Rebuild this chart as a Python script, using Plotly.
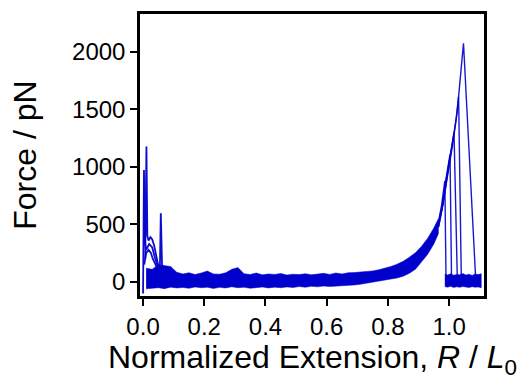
import plotly.graph_objects as go

BLUE = "#0000CC"

# ---- data ----
# noisy baseline band before rupture (upper / lower envelope)
band_x = [0.01, 0.03, 0.05, 0.07, 0.09, 0.11, 0.13, 0.15, 0.17, 0.19, 0.21, 0.23, 0.25,
          0.27, 0.29, 0.31, 0.33, 0.35, 0.37, 0.39, 0.41, 0.43, 0.45, 0.47, 0.49, 0.51,
          0.53, 0.55, 0.57, 0.59, 0.61, 0.63, 0.65, 0.67, 0.69, 0.71, 0.73, 0.75, 0.77,
          0.79, 0.81, 0.83, 0.85, 0.87, 0.89, 0.91, 0.93, 0.95, 0.965]
band_top = [120, 110, 150, 140, 135, 85, 70, 80, 65, 78, 95, 70, 68,
            80, 110, 125, 72, 65, 78, 62, 70, 66, 74, 60, 68, 64,
            72, 62, 70, 75, 66, 78, 70, 80, 82, 86, 90, 96, 106,
            118, 135, 155, 180, 215, 255, 310, 380, 470, 550]
band_bot = [-60, -55, -50, -58, -45, -52, -48, -55, -44, -50, -46, -56, -47,
            -52, -42, -50, -46, -55, -48, -44, -52, -45, -50, -43, -48, -40,
            -46, -38, -42, -36, -40, -34, -36, -30, -26, -20, -12, -5, 5,
            15, 25, 35, 50, 75, 110, 170, 240, 330, 420]

# noisy baseline band after rupture
post_x = [0.986, 0.995, 1.005, 1.015, 1.025, 1.035, 1.045, 1.055, 1.065, 1.075, 1.085, 1.095, 1.105]
post_top = [70, 60, 72, 58, 66, 62, 74, 60, 68, 57, 70, 64, 72]
post_bot = [-40, -45, -38, -48, -42, -46, -40, -44, -48, -41, -46, -43, -50]

# individual traces: stretch to rupture
ta_x = [0.962, 0.975, 0.986, 0.990]
ta_y = [480, 660, 880, 15]
tb_x = [0.962, 0.977, 0.990, 1.003, 1.008]
tb_y = [470, 650, 900, 1110, 10]
tc_x = [0.963, 0.978, 0.992, 1.005, 1.016, 1.027]
tc_y = [480, 660, 910, 1120, 1300, 10]
td_x = [0.965, 0.980, 0.995, 1.010, 1.022, 1.031, 1.040]
td_y = [480, 680, 940, 1180, 1400, 1610, 10]
te_x = [0.966, 0.981, 0.997, 1.012, 1.026, 1.037, 1.047, 1.087]
te_y = [480, 690, 960, 1200, 1470, 1760, 2075, 20]

# features near zero extension
la_x = [0.0, 0.001, 0.003, 0.006, 0.010, 0.020, 0.030, 0.040, 0.050, 0.060, 0.080]
la_y = [-100, 300, 974, 350, 280, 330, 300, 200, 120, 80, 60]
lb_x = [0.007, 0.011, 0.014, 0.018, 0.024, 0.030, 0.036, 0.042, 0.050, 0.055, 0.058, 0.062, 0.070, 0.090, 0.100]
lb_y = [200, 1177, 400, 360, 390, 370, 320, 240, 140, 120, 597, 150, 110, 120, 60]
lc_x = [0.004, 0.010, 0.018, 0.026, 0.032, 0.040, 0.050, 0.060]
lc_y = [150, 250, 280, 250, 200, 150, 100, 70]

x_ticks = [0.0, 0.2, 0.4, 0.6, 0.8, 1.0]
x_tick_text = ["0.0", "0.2", "0.4", "0.6", "0.8", "1.0"]
y_ticks = [0, 500, 1000, 1500, 2000]

fig = go.Figure()

fig.add_trace(go.Scatter(x=band_x + band_x[::-1], y=band_top + band_bot[::-1],
                         fill="toself", fillcolor=BLUE, mode="lines",
                         line=dict(color=BLUE, width=0.5), hoverinfo="skip"))
fig.add_trace(go.Scatter(x=post_x + post_x[::-1], y=post_top + post_bot[::-1],
                         fill="toself", fillcolor=BLUE, mode="lines",
                         line=dict(color=BLUE, width=0.5), hoverinfo="skip"))

for xs, ys in [(ta_x, ta_y), (tb_x, tb_y), (tc_x, tc_y), (td_x, td_y), (te_x, te_y)]:
    fig.add_trace(go.Scatter(x=xs, y=ys, mode="lines",
                             line=dict(color=BLUE, width=1.4), opacity=0.9))
for xs, ys in [(la_x, la_y), (lb_x, lb_y), (lc_x, lc_y)]:
    fig.add_trace(go.Scatter(x=xs, y=ys, mode="lines",
                             line=dict(color=BLUE, width=1.8), opacity=0.95))

axis_common = dict(showline=True, linecolor="black", linewidth=2.5, mirror=True,
                   ticks="outside", ticklen=7, tickwidth=2, tickcolor="black",
                   showgrid=False, zeroline=False, automargin=False,
                   tickfont=dict(family="Liberation Sans, Arial", size=24, color="black"))

fig.update_layout(
    width=523, height=379,
    margin=dict(l=140, r=39, t=14, b=83),
    paper_bgcolor="white", plot_bgcolor="white",
    showlegend=False,
    font=dict(family="Liberation Sans, Arial", color="black"),
    xaxis=dict(range=[-0.01, 1.114], tickvals=x_ticks, ticktext=x_tick_text, **axis_common),
    yaxis=dict(range=[-122, 2330], tickvals=y_ticks, **axis_common),
    annotations=[
        dict(text="Normalized Extension, <i>R</i> / <i>L</i><sub>0</sub>",
             xref="paper", yref="paper", x=0.5, y=-0.225, xanchor="center", yanchor="middle",
             showarrow=False, font=dict(size=32)),
        dict(text="Force / pN", textangle=-90,
             xref="paper", yref="paper", x=-0.335, y=0.5, xanchor="center", yanchor="middle",
             showarrow=False, font=dict(size=32)),
    ],
)

fig.write_html("out.html", config={"displayModeBar": False},
               post_script="document.body.style.margin='0';document.body.style.overflow='hidden';")
